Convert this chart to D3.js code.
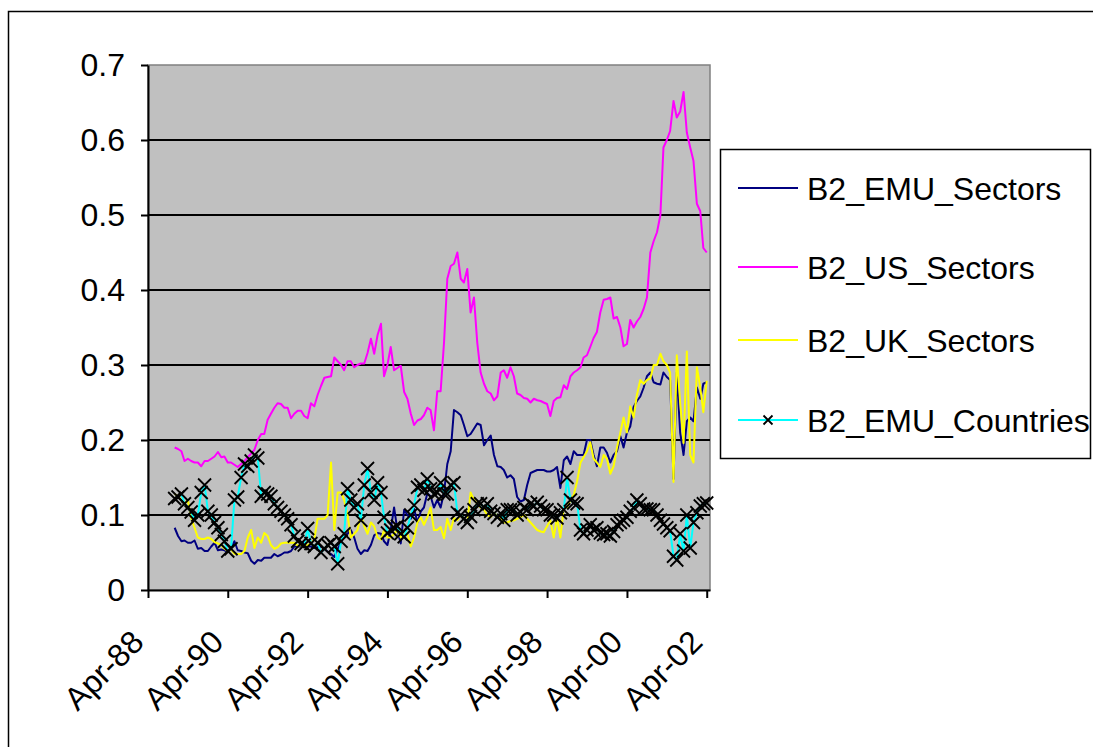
<!DOCTYPE html>
<html>
<head>
<meta charset="utf-8">
<script src="https://cdn.jsdelivr.net/npm/d3@7"></script>
<style>
body { margin: 0; background: #fff; }
text { font-family: Arial, "Liberation Sans", sans-serif; }
</style>
</head>
<body>
<svg width="1093" height="747"></svg>
<script>
// monthly observations, Dec-88 .. Apr-02
var firstMonth = "1988-12";
var seriesNames = ["B2_EMU_Sectors", "B2_US_Sectors", "B2_UK_Sectors", "B2_EMU_Countries"];
var tickLabels = ["Apr-88", "Apr-90", "Apr-92", "Apr-94", "Apr-96", "Apr-98", "Apr-00", "Apr-02"];
var yTicks = [0, 0.1, 0.2, 0.3, 0.4, 0.5, 0.6, 0.7];

var emuSectors = [
  0.083,0.072,0.065,0.066,0.063,0.063,0.066,0.055,0.056,0.052,
  0.052,0.058,0.063,0.053,0.054,0.053,0.051,0.055,0.065,0.053,
  0.052,0.050,0.049,0.039,0.035,0.040,0.039,0.043,0.043,0.043,
  0.048,0.045,0.047,0.050,0.050,0.052,0.058,0.058,0.058,0.065,
  0.058,0.058,0.056,0.057,0.058,0.055,0.051,0.048,0.044,0.055,
  0.063,0.073,0.075,0.080,0.070,0.055,0.048,0.053,0.052,0.060,
  0.073,0.076,0.075,0.065,0.060,0.080,0.110,0.080,0.062,0.107,
  0.100,0.095,0.108,0.090,0.105,0.110,0.129,0.125,0.110,0.120,
  0.110,0.130,0.168,0.185,0.240,0.237,0.233,0.220,0.205,0.208,
  0.215,0.222,0.220,0.193,0.200,0.206,0.180,0.165,0.164,0.160,
  0.150,0.153,0.148,0.124,0.118,0.120,0.140,0.156,0.158,0.160,
  0.160,0.160,0.158,0.158,0.160,0.164,0.136,0.173,0.178,0.168,
  0.185,0.180,0.180,0.180,0.200,0.200,0.180,0.165,0.190,0.190,
  0.183,0.170,0.180,0.185,0.205,0.190,0.210,0.218,0.244,0.252,
  0.258,0.270,0.285,0.290,0.277,0.275,0.274,0.290,0.284,0.280,
  0.148,0.290,0.210,0.180,0.225,0.230,0.225,0.270,0.255,0.275,0.277
];

var usSectors = [
  0.190,0.188,0.185,0.172,0.175,0.172,0.170,0.170,0.165,0.172,
  0.172,0.175,0.178,0.184,0.177,0.178,0.170,0.170,0.167,0.164,
  0.168,0.172,0.177,0.182,0.187,0.200,0.208,0.208,0.227,0.235,
  0.243,0.249,0.248,0.243,0.243,0.229,0.235,0.239,0.239,0.232,
  0.229,0.249,0.245,0.260,0.272,0.283,0.284,0.285,0.310,0.305,
  0.300,0.293,0.305,0.305,0.297,0.300,0.302,0.302,0.316,0.335,
  0.315,0.340,0.355,0.285,0.300,0.324,0.293,0.296,0.299,0.264,
  0.255,0.235,0.220,0.226,0.228,0.233,0.243,0.240,0.213,0.265,
  0.265,0.330,0.415,0.432,0.435,0.450,0.415,0.410,0.428,0.370,
  0.390,0.330,0.290,0.275,0.265,0.262,0.253,0.258,0.290,0.293,
  0.283,0.297,0.285,0.262,0.260,0.256,0.255,0.250,0.255,0.253,
  0.252,0.250,0.248,0.232,0.252,0.256,0.257,0.273,0.268,0.285,
  0.290,0.293,0.297,0.310,0.313,0.324,0.336,0.344,0.370,0.387,
  0.388,0.390,0.362,0.364,0.350,0.325,0.328,0.360,0.350,0.358,
  0.364,0.375,0.390,0.450,0.465,0.477,0.500,0.590,0.600,0.612,
  0.652,0.630,0.638,0.664,0.610,0.590,0.572,0.515,0.505,0.456,0.450
];

var ukSectors = [
  0.128,0.125,0.120,0.115,0.120,0.096,0.083,0.070,0.068,0.068,
  0.070,0.068,0.064,0.062,0.060,0.055,0.052,0.054,0.048,0.048,
  0.048,0.052,0.070,0.080,0.056,0.070,0.063,0.076,0.072,0.060,
  0.055,0.057,0.062,0.063,0.063,0.063,0.063,0.059,0.060,0.058,
  0.060,0.062,0.068,0.095,0.095,0.095,0.100,0.170,0.080,0.130,
  0.130,0.120,0.100,0.070,0.075,0.080,0.100,0.085,0.075,0.090,
  0.085,0.070,0.067,0.080,0.070,0.070,0.075,0.080,0.070,0.080,
  0.075,0.058,0.070,0.090,0.097,0.087,0.097,0.110,0.080,0.080,
  0.084,0.069,0.095,0.080,0.096,0.093,0.100,0.095,0.090,0.130,
  0.120,0.115,0.110,0.107,0.100,0.097,0.103,0.098,0.095,0.090,
  0.090,0.092,0.093,0.095,0.097,0.100,0.095,0.090,0.085,0.080,
  0.078,0.077,0.085,0.093,0.070,0.097,0.070,0.110,0.110,0.120,
  0.127,0.145,0.170,0.177,0.185,0.197,0.175,0.170,0.164,0.180,
  0.175,0.155,0.165,0.190,0.210,0.230,0.210,0.245,0.230,0.260,
  0.280,0.275,0.280,0.282,0.300,0.300,0.315,0.305,0.300,0.290,
  0.144,0.313,0.250,0.196,0.318,0.180,0.170,0.297,0.270,0.237,0.279
];

var emuCountries = [
  0.122,0.124,0.128,0.115,0.110,0.104,0.093,0.100,0.130,0.140,
  0.105,0.100,0.090,0.083,0.074,0.065,0.052,0.055,0.120,0.124,
  0.150,0.168,0.165,0.172,0.180,0.176,0.125,0.130,0.128,0.125,
  0.115,0.110,0.105,0.100,0.095,0.087,0.072,0.065,0.062,0.060,
  0.082,0.062,0.058,0.063,0.050,0.055,0.060,0.063,0.058,0.035,
  0.065,0.075,0.135,0.120,0.110,0.115,0.093,0.140,0.162,0.130,
  0.120,0.143,0.130,0.097,0.076,0.080,0.083,0.085,0.075,0.071,
  0.083,0.100,0.113,0.137,0.140,0.133,0.148,0.135,0.128,0.130,
  0.143,0.128,0.128,0.140,0.143,0.103,0.100,0.095,0.090,0.098,
  0.107,0.115,0.115,0.110,0.115,0.105,0.102,0.097,0.102,0.093,
  0.107,0.107,0.107,0.100,0.104,0.110,0.107,0.115,0.112,0.117,
  0.112,0.107,0.107,0.100,0.100,0.096,0.103,0.107,0.150,0.120,
  0.116,0.115,0.080,0.075,0.080,0.087,0.080,0.083,0.076,0.074,
  0.075,0.072,0.078,0.087,0.090,0.093,0.097,0.105,0.110,0.120,
  0.115,0.108,0.108,0.107,0.107,0.100,0.093,0.088,0.083,0.079,
  0.045,0.040,0.075,0.052,0.100,0.056,0.090,0.103,0.112,0.115,0.116
];

var seriesValues = [emuSectors, usSectors, ukSectors, emuCountries];
var seriesColors = ["#000080", "#ff00ff", "#ffff00", "#00ffff"];

var svg = d3.select("svg");
var fontFamily = "Arial, 'Liberation Sans', sans-serif";
var fontSize = 32;
var parseMonth = d3.utcParse("%Y-%m");
var parseLabel = d3.utcParse("%b-%y");
var start = parseMonth(firstMonth);
var dates = emuSectors.map(function(d, i) { return d3.utcMonth.offset(start, i); });

var plotLeft = 148, plotRight = 710, plotTop = 65, plotBottom = 590;
var xScale = d3.scaleUtc()
  .domain([parseLabel("Apr-88"), parseLabel("May-02")])
  .range([plotLeft, plotRight]);
var yScale = d3.scaleLinear().domain([0, 0.7]).range([plotBottom, plotTop]);

// outer chart border
svg.append("rect")
  .attr("x", 8.5).attr("y", 11.5)
  .attr("width", 1100).attr("height", 760)
  .attr("fill", "#fff").attr("stroke", "#000").attr("stroke-width", 1.5);

// plot area
svg.append("rect")
  .attr("x", plotLeft).attr("y", plotTop)
  .attr("width", plotRight - plotLeft).attr("height", plotBottom - plotTop)
  .attr("fill", "#c0c0c0").attr("stroke", "#808080").attr("stroke-width", 1.5);

// grid lines
svg.append("g").selectAll("line")
  .data(yTicks.filter(function(t) { return t > 0 && t < 0.7; }))
  .enter().append("line")
  .attr("x1", plotLeft).attr("x2", plotRight)
  .attr("y1", function(d) { return yScale(d); })
  .attr("y2", function(d) { return yScale(d); })
  .attr("stroke", "#000").attr("stroke-width", 2);

// y axis
var yAxis = svg.append("g")
  .attr("transform", "translate(" + plotLeft + ",0)")
  .call(d3.axisLeft(yScale).tickValues(yTicks).tickFormat(d3.format(".1~f")).tickSize(7).tickPadding(16).tickSizeOuter(0));
yAxis.select(".domain").attr("stroke-width", 2);
yAxis.selectAll(".tick line").attr("stroke-width", 2);
yAxis.selectAll("text").attr("font-size", fontSize).attr("font-family", fontFamily).attr("fill", "#000");

// x axis
var xAxis = svg.append("g")
  .attr("transform", "translate(0," + plotBottom + ")")
  .call(d3.axisBottom(xScale)
    .tickValues(tickLabels.map(parseLabel))
    .tickFormat(d3.utcFormat("%b-%y"))
    .tickSize(8).tickSizeOuter(0));
xAxis.select(".domain").attr("stroke-width", 2);
xAxis.selectAll(".tick line").attr("stroke-width", 2);
xAxis.selectAll("text")
  .attr("font-size", fontSize).attr("font-family", fontFamily).attr("fill", "#000")
  .attr("text-anchor", "end")
  .attr("x", 0).attr("y", 0).attr("dy", 0)
  .attr("transform", "translate(-3,54) rotate(-45)");

// series lines
var line = d3.line()
  .x(function(d, i) { return xScale(dates[i]); })
  .y(function(d) { return yScale(d); });

seriesValues.forEach(function(vals, k) {
  svg.append("path")
    .datum(vals)
    .attr("d", line)
    .attr("fill", "none")
    .attr("stroke", seriesColors[k])
    .attr("stroke-width", 2)
    .attr("stroke-linejoin", "round");
});

// x markers on EMU countries
var cross = "M-6.5,-6.5L6.5,6.5M6.5,-6.5L-6.5,6.5";
svg.append("g").selectAll("path")
  .data(emuCountries)
  .enter().append("path")
  .attr("d", cross)
  .attr("transform", function(d, i) { return "translate(" + xScale(dates[i]) + "," + yScale(d) + ")"; })
  .attr("fill", "none").attr("stroke", "#000").attr("stroke-width", 1.8);

// legend
var legend = svg.append("g");
legend.append("rect")
  .attr("x", 720.5).attr("y", 149.5)
  .attr("width", 370).attr("height", 309)
  .attr("fill", "#fff").attr("stroke", "#000").attr("stroke-width", 1.5);

var legendRows = [188, 267, 340, 420];
seriesNames.forEach(function(name, k) {
  var y = legendRows[k];
  legend.append("line")
    .attr("x1", 738).attr("x2", 798).attr("y1", y).attr("y2", y)
    .attr("stroke", seriesColors[k]).attr("stroke-width", 2);
  legend.append("text")
    .attr("x", 807).attr("y", y).attr("dy", "0.36em")
    .attr("font-size", fontSize).attr("font-family", fontFamily).attr("fill", "#000")
    .text(name);
});
legend.append("path")
  .attr("d", "M-4.5,-4.5L4.5,4.5M4.5,-4.5L-4.5,4.5")
  .attr("transform", "translate(768," + legendRows[3] + ")")
  .attr("fill", "none").attr("stroke", "#000").attr("stroke-width", 1.8);
</script>
</body>
</html>
